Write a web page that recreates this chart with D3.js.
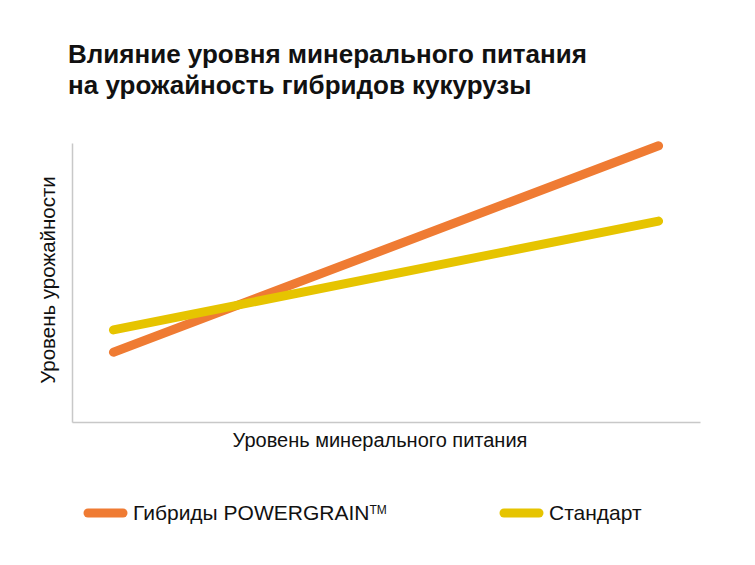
<!DOCTYPE html>
<html>
<head>
<meta charset="utf-8">
<script src="https://cdn.jsdelivr.net/npm/d3@7"></script>
<style>
  body { margin: 0; background: #fff; }
  text { font-family: "Liberation Sans", Arial, sans-serif; }
</style>
</head>
<body>
<div id="chart-container"></div>
<script>
// chart data
const levels = ["низкий", "высокий"];
const seriesNames = ["Гибриды POWERGRAIN", "Стандарт"];
const seriesMarks = ["TM", ""];
const powergrainValues = [25, 99];
const standardValues = [33, 72];
const colors = ["#ef7b33", "#e6c400"];

const W = 755, H = 565;
const margin = { top: 143, right: 55, bottom: 143, left: 72 };
const width = W - margin.left - margin.right;
const height = H - margin.top - margin.bottom;

const svg = d3.select("#chart-container")
  .append("svg")
    .attr("width", W)
    .attr("height", H);

// title
const title = svg.append("text")
  .attr("x", 68)
  .attr("y", 63)
  .style("font-size", "26px")
  .style("font-weight", "bold")
  .style("fill", "#111");
title.append("tspan").attr("x", 68).text("Влияние уровня минерального питания");
title.append("tspan").attr("x", 68).attr("dy", 31).text("на урожайность гибридов кукурузы");

const g = svg.append("g")
  .attr("transform", `translate(${margin.left},${margin.top})`);

// scales
const x = d3.scalePoint()
  .domain(levels)
  .range([0, width])
  .padding(0.076);

const y = d3.scaleLinear()
  .domain([0, 100])
  .range([height, 0]);

// axes (no ticks)
g.append("g")
  .attr("transform", `translate(0,${height})`)
  .call(d3.axisBottom(x).tickSize(0).tickFormat(""))
  .call(a => a.select(".domain").attr("stroke", "#c8c8c8").attr("stroke-width", 1.5));

g.append("g")
  .call(d3.axisLeft(y).tickSize(0).tickFormat("").ticks(0))
  .call(a => a.select(".domain").attr("stroke", "#c8c8c8").attr("stroke-width", 1.5));

// axis labels
g.append("text")
  .attr("x", 380 - margin.left)
  .attr("y", height + 25)
  .style("text-anchor", "middle")
  .style("font-size", "20px")
  .style("fill", "#111")
  .text("Уровень минерального питания");

g.append("text")
  .attr("transform", "rotate(-90)")
  .attr("x", -(280 - margin.top))
  .attr("y", -17)
  .style("text-anchor", "middle")
  .style("font-size", "20.5px")
  .style("fill", "#111")
  .text("Уровень урожайности");

// lines
const line = d3.line()
  .x((d, i) => x(levels[i]))
  .y(d => y(d));

const series = [powergrainValues, standardValues];

g.selectAll(".series")
  .data(series)
  .join("path")
  .attr("class", "series")
  .attr("d", d => line(d))
  .attr("fill", "none")
  .attr("stroke", (d, i) => colors[i])
  .attr("stroke-width", 9)
  .attr("stroke-linecap", "round");

// legend
const legend = svg.append("g")
  .attr("transform", "translate(0,513)");

const legendX = [88, 504];

const items = legend.selectAll(".item")
  .data(seriesNames)
  .join("g")
  .attr("class", "item")
  .attr("transform", (d, i) => `translate(${legendX[i]},0)`);

items.append("line")
  .attr("x1", 0)
  .attr("x2", 35)
  .attr("stroke", (d, i) => colors[i])
  .attr("stroke-width", 9)
  .attr("stroke-linecap", "round");

const labels = items.append("text")
  .attr("x", 45)
  .attr("y", 7)
  .style("font-size", "21px")
  .style("fill", "#111");
labels.append("tspan").text(d => d);
labels.append("tspan")
  .attr("dy", -6)
  .style("font-size", "12px")
  .text((d, i) => seriesMarks[i]);
</script>
</body>
</html>
